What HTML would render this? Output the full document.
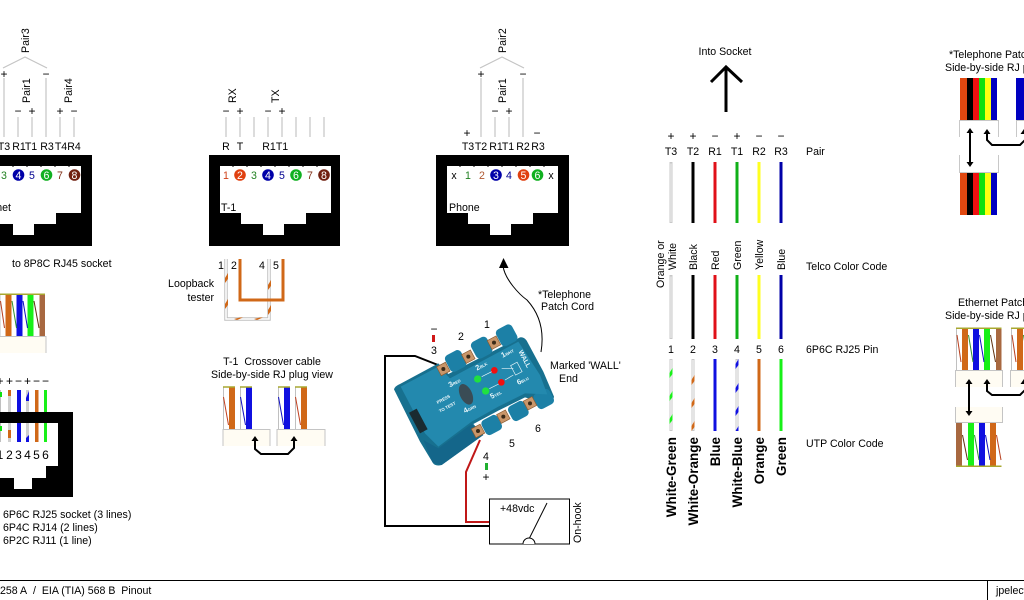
<!DOCTYPE html>
<html><head><meta charset="utf-8"><style>
html,body{margin:0;padding:0;background:#fff;width:1024px;height:600px;overflow:hidden}
svg{display:block}
text{font-family:"Liberation Sans",Arial,sans-serif;font-size:10.6px;fill:#000}
.m{text-anchor:middle}.e{text-anchor:end}
.b{font-weight:bold;font-size:13.5px}
.g{stroke:#c4c4c4;stroke-width:1.2;fill:none}
.s{font-size:12px;text-anchor:middle}
</style></head><body>
<svg width="1024" height="600" viewBox="0 0 1024 600" xmlns="http://www.w3.org/2000/svg">
<defs>
<g id="ethA">
<rect x="955" y="370" width="48" height="17" fill="#fffcf3"/>
<path d="M955.500 387V370.500H1002.500V387" fill="none" stroke="#c4c4c4"/>
<rect x="956" y="328" width="45" height="42" fill="#fff"/>
<path d="M956.500 329V370" stroke="#c0c0c0" fill="none"/>
<rect x="962" y="328" width="6" height="42" fill="#d06818"/>
<rect x="973" y="328" width="6" height="42" fill="#1010e0"/>
<rect x="984" y="328" width="6" height="42" fill="#18f018"/>
<rect x="996" y="328" width="5.500" height="42" fill="#a86840"/>
<path d="M957 335L961 362" stroke="#b84020"/><path d="M968.500 335L973 362" stroke="#309030"/><path d="M979.500 335L984 362" stroke="#1010c0"/><path d="M990.500 335L995.500 362" stroke="#603010"/>
<rect x="956" y="327.500" width="45.500" height="1.500" fill="#a8a830"/>
</g>
<g id="telW">
<rect x="960" y="0" width="7" height="42" fill="#e04810"/>
<rect x="967" y="0" width="6" height="42" fill="#000"/>
<rect x="973" y="0" width="6" height="42" fill="#f01010"/>
<rect x="979" y="0" width="6" height="42" fill="#10e010"/>
<rect x="985" y="0" width="6" height="42" fill="#ffff10"/>
<rect x="991" y="0" width="6" height="42" fill="#0000c0"/>
</g>
<g id="tick"><path d="M233 165v2M247 165v2M261 165v2M275 165v2M289 165v2M303 165v2M317 165v2" stroke="#000" fill="none"/></g>
</defs>

<!-- SOCKET 1 -->
<path d="M-39 155H92V246H-39Z M-28 166V213H-7V224H13V235H34V224H56V213H81V166Z" fill="#000" fill-rule="evenodd"/>
<use href="#tick" x="-248"/>
<path class="g" d="M3 68L25 57L47 68M4 78V137M46 78V137M18 117V137M32 117V137M60 117V137M74 117V137"/>
<text transform="rotate(-90 29 53)" x="29" y="53">Pair3</text>
<text transform="rotate(-90 30 103)" x="30" y="103">Pair1</text>
<text transform="rotate(-90 72 103)" x="72" y="103">Pair4</text>
<text class="s" x="4" y="78">+</text><text class="s" x="46" y="78">−</text>
<text class="s" x="18" y="115">−</text><text class="s" x="32" y="115">+</text><text class="s" x="60" y="115">+</text><text class="s" x="74" y="115">−</text>
<text class="m" x="4" y="150">T3</text><text class="m" x="19" y="150">R1</text><text class="m" x="31" y="150">T1</text><text class="m" x="47" y="150">R3</text><text class="m" x="61" y="150">T4</text><text class="m" x="74" y="150">R4</text>
<text class="m" x="4" y="179" style="fill:#208020">3</text>
<circle cx="18.500" cy="175" r="5.800" fill="#0000a8"/><text class="m" x="18.500" y="179" style="fill:#fff">4</text>
<text class="m" x="32" y="179" style="fill:#000090">5</text>
<circle cx="46.500" cy="175" r="5.800" fill="#10b020"/><text class="m" x="46.500" y="179" style="fill:#fff">6</text>
<text class="m" x="60" y="179" style="fill:#803018">7</text>
<circle cx="74.500" cy="175" r="5.800" fill="#702010"/><text class="m" x="74.500" y="179" style="fill:#fff">8</text>
<text class="e" x="11" y="211">Ethernet</text>
<text x="12" y="267">to 8P8C RJ45 socket</text>
<use href="#ethA" transform="translate(-956.500,-34)"/>

<!-- SOCKET 4 -->
<g>
<rect x="-1" y="390" width="2" height="52" fill="#c0c0c0"/><path d="M0 392h2v5h-2z M0 426h2v5h-2z" fill="#10e010"/>
<rect x="8" y="390" width="3" height="52" fill="#d0d0d0"/><path d="M8 390h3v6h-3z M8 430h3v8h-3z" fill="#d06818"/>
<rect x="17" y="390" width="4" height="52" fill="#1010e0"/>
<rect x="26" y="390" width="3" height="52" fill="#d0d0d0"/><path d="M26 398l3-7v10h-3z M26 438l3-3v7h-3z" fill="#1010e0"/>
<rect x="35" y="390" width="3.500" height="52" fill="#d06818"/>
<rect x="44" y="390" width="3" height="52" fill="#18f018"/>
</g>
<path d="M-27 412H73V497H-27Z M-12 423V466H0V478H14V489H32V478H46V466H58V423Z" fill="#000" fill-rule="evenodd"/>
<text class="s" x="0" y="385">+</text><text class="s" x="9.500" y="385">+</text><text class="s" x="18.500" y="385">−</text><text class="s" x="27.500" y="385">+</text><text class="s" x="36.500" y="385">−</text><text class="s" x="45.500" y="385">−</text>
<text class="s" x="0" y="459">1</text><text class="s" x="9.500" y="459">2</text><text class="s" x="18.500" y="459">3</text><text class="s" x="27.500" y="459">4</text><text class="s" x="36.500" y="459">5</text><text class="s" x="45.500" y="459">6</text>
<text x="3" y="518">6P6C RJ25 socket (3 lines)</text>
<text x="3" y="531">6P4C RJ14 (2 lines)</text>
<text x="3" y="544">6P2C RJ11 (1 line)</text>

<!-- SOCKET 2 -->
<path d="M209 155H340V246H209Z M220 166V213H241V224H263V235H284V224H306V213H331V166Z" fill="#000" fill-rule="evenodd"/>
<use href="#tick"/>
<path class="g" d="M226 117V137M240 117V137M254 117V137M268 117V137M282 117V137M296 117V137M310 117V137M324 117V137"/>
<text transform="rotate(-90 236 103)" x="236" y="103">RX</text>
<text transform="rotate(-90 279 103)" x="279" y="103">TX</text>
<text class="s" x="226" y="115">−</text><text class="s" x="240" y="115">+</text><text class="s" x="268" y="115">−</text><text class="s" x="282" y="115">+</text>
<text class="m" x="226" y="150">R</text><text class="m" x="240" y="150">T</text><text class="m" x="269" y="150">R1</text><text class="m" x="282" y="150">T1</text>
<text class="m" x="226" y="179" style="fill:#d04018">1</text>
<circle cx="240" cy="175" r="5.800" fill="#e04010"/><text class="m" x="240" y="179" style="fill:#fff">2</text>
<text class="m" x="254" y="179" style="fill:#208020">3</text>
<circle cx="268" cy="175" r="5.800" fill="#0000a8"/><text class="m" x="268" y="179" style="fill:#fff">4</text>
<text class="m" x="282" y="179" style="fill:#000090">5</text>
<circle cx="296" cy="175" r="5.800" fill="#10b020"/><text class="m" x="296" y="179" style="fill:#fff">6</text>
<text class="m" x="310" y="179" style="fill:#803018">7</text>
<circle cx="324" cy="175" r="5.800" fill="#702010"/><text class="m" x="324" y="179" style="fill:#fff">8</text>
<text x="221" y="211">T-1</text>

<!-- Loopback -->
<path d="M226 259V319H269V259" fill="none" stroke="#c0c0c0" stroke-width="3.500"/>
<path d="M226 259V319H269V259" fill="none" stroke="#fff" stroke-width="1.500"/>
<path d="M225 278l3-5v6l-3 4zM225 304l3-5v6l-3 4zM234 319l6-1.500 3 0-6 2.500zM254 319l6-1.500 3 0-6 2.500zM268 285l3-5v6l-3 4zM268 310l3-5v6l-3 4z" fill="#d06818"/>
<path d="M240 259V300H283V259" fill="none" stroke="#d06818" stroke-width="3"/>
<text class="m" x="221" y="269">1</text><text class="m" x="234" y="269">2</text><text class="m" x="262" y="269">4</text><text class="m" x="276" y="269">5</text>
<text class="e" x="214" y="287">Loopback</text><text class="e" x="214" y="301">tester</text>

<!-- T-1 crossover -->
<text class="m" x="272" y="365">T-1&#160; Crossover cable</text>
<text class="m" x="272" y="378">Side-by-side RJ plug view</text>
<rect x="223" y="429" width="47" height="17" fill="#fffcf3"/><rect x="277" y="429" width="48" height="17" fill="#fffcf3"/>
<path d="M223 446V429.500H270V446M277 446V429.500H325V446" fill="none" stroke="#c4c4c4"/>
<path d="M223.500 387V429M240.500 387V429M278.500 387V429M295.500 387V429" stroke="#c0c0c0" fill="none"/>
<rect x="229" y="387" width="6" height="42" fill="#d06818"/><rect x="246" y="387" width="6" height="42" fill="#1010e0"/>
<rect x="284" y="387" width="6" height="42" fill="#1010e0"/><rect x="301" y="387" width="6" height="42" fill="#d06818"/>
<path d="M223.500 397L228.500 425M295.500 397L300.500 425" stroke="#c04020"/><path d="M240.500 397L245.500 425M278.500 397L283.500 425" stroke="#1010c0"/>
<path d="M223 387h12M240 387h12M278 387h12M295 387h12" stroke="#a8a830" stroke-width="1.500"/>
<path d="M255 439V449L261 454H288L294 448V439" fill="none" stroke="#000" stroke-width="2"/>
<path d="M255 436l-3.500 5h7zM294 436l-3.500 5h7z" fill="#000"/>

<!-- SOCKET 3 -->
<path d="M436 155H569V246H436Z M447 166V213H468V224H490V235H511V224H533V213H558V166Z" fill="#000" fill-rule="evenodd"/>
<use href="#tick" x="227"/>
<path class="g" d="M480 68L502 57L524 68M481 78V137M523 78V137M495 117V137M509 117V137"/>
<text transform="rotate(-90 506 53)" x="506" y="53">Pair2</text>
<text transform="rotate(-90 506 103)" x="506" y="103">Pair1</text>
<text class="s" x="481" y="78">+</text><text class="s" x="523" y="78">−</text><text class="s" x="495" y="115">−</text><text class="s" x="509" y="115">+</text><text class="s" x="467" y="137">+</text><text class="s" x="537" y="137">−</text>
<text class="m" x="468" y="150">T3</text><text class="m" x="481" y="150">T2</text><text class="m" x="496" y="150">R1</text><text class="m" x="508" y="150">T1</text><text class="m" x="523" y="150">R2</text><text class="m" x="538" y="150">R3</text>
<text class="m" x="454" y="179">x</text><text class="m" x="551" y="179">x</text>
<text class="m" x="468" y="179" style="fill:#208020">1</text>
<text class="m" x="482" y="179" style="fill:#b05830">2</text>
<circle cx="496" cy="175" r="5.800" fill="#0000a8"/><text class="m" x="496" y="179" style="fill:#fff">3</text>
<text class="m" x="509" y="179" style="fill:#000090">4</text>
<circle cx="523.500" cy="175" r="5.800" fill="#e04010"/><text class="m" x="523.500" y="179" style="fill:#fff">5</text>
<circle cx="537.500" cy="175" r="5.800" fill="#10b020"/><text class="m" x="537.500" y="179" style="fill:#fff">6</text>
<text x="449" y="211">Phone</text>

<!-- Patch arrow -->
<path d="M503 266C505 280 520 295 527 300C538 312 545 328 541 352" fill="none" stroke="#000"/>
<path d="M503.500 258L499 268H508.500Z" fill="#000"/>
<text x="538" y="298">*Telephone</text><text x="541" y="310">Patch Cord</text>
<text x="550" y="369">Marked 'WALL'</text><text x="559" y="382">End</text>

<!-- Wires to box -->
<path d="M438 365L415 356H385V526H489" fill="none" stroke="#000" stroke-width="2"/>
<path d="M480 440L466 472V522H489" fill="none" stroke="#c01818" stroke-width="2"/>

<!-- Tester -->
<g transform="translate(370,300) scale(.33333)">
<path d="M72 268Q75 258 90 252L205 190L235 222L450 112Q462 110 470 122L520 215L552 290Q552 300 535 312L465 292L385 332L310 372L340 405L215 495Q195 500 188 488L150 425Z" fill="#17708f"/>
<g fill="#1c80a6">
<rect x="230" y="155" width="54" height="56" rx="13" transform="rotate(-28 257 183)"/>
<rect x="308" y="115" width="54" height="56" rx="13" transform="rotate(-28 335 143)"/>
<rect x="383" y="78" width="54" height="56" rx="13" transform="rotate(-28 410 106)"/>
<rect x="338" y="350" width="54" height="50" rx="13" transform="rotate(-28 365 375)"/>
<rect x="418" y="308" width="54" height="50" rx="13" transform="rotate(-28 445 333)"/>
<rect x="494" y="272" width="54" height="50" rx="13" transform="rotate(-28 521 297)"/>
</g>
<path d="M92 260L205 200L240 235L445 125L510 225L532 283L465 280L385 320L305 365L205 440L165 400Z" fill="#2389ae"/>
<path d="M188 488L160 420L205 445L305 372L340 405L215 495Z" fill="#14668a"/>
<g fill="#c9966a" stroke="#8a5a30" stroke-width="2">
<rect x="205" y="192" width="30" height="30" transform="rotate(-28 220 207)"/>
<rect x="280" y="155" width="30" height="30" transform="rotate(-28 295 170)"/>
<rect x="357" y="113" width="30" height="30" transform="rotate(-28 372 128)"/>
<rect x="309" y="378" width="30" height="30" transform="rotate(-28 324 393)"/>
<rect x="385" y="335" width="30" height="30" transform="rotate(-28 400 350)"/>
<rect x="465" y="295" width="30" height="30" transform="rotate(-28 480 310)"/>
</g>
<g fill="#3a2a18">
<circle cx="220" cy="207" r="6"/><circle cx="295" cy="170" r="6"/><circle cx="372" cy="128" r="6"/><circle cx="324" cy="393" r="6"/><circle cx="400" cy="350" r="6"/><circle cx="480" cy="310" r="6"/>
</g>
<ellipse cx="288" cy="283" rx="18" ry="33" transform="rotate(-25 288 283)" fill="#3a4c55"/>
<rect x="132" y="328" width="26" height="70" transform="rotate(-28 145 363)" fill="#1a2a30"/>
<circle cx="323" cy="237" r="11" fill="#20e040"/><circle cx="373" cy="211" r="10" fill="#f01010"/><circle cx="394" cy="247" r="10" fill="#f01010"/><circle cx="347" cy="273" r="11" fill="#20e040"/>
<g fill="none" stroke="#e8f4f8" stroke-width="2"><path d="M335 230L365 215M358 266L386 252M395 205L430 205M405 240L430 225"/><rect x="428" y="190" width="22" height="32" transform="rotate(-28 439 206)"/></g>
<text transform="rotate(-28 240 262)" x="240" y="262" style="fill:#eaf6fa;font-size:22px;font-weight:bold">3<tspan style="font-size:12px">RED</tspan></text>
<text transform="rotate(-28 320 210)" x="320" y="212" style="fill:#eaf6fa;font-size:22px;font-weight:bold">2<tspan style="font-size:12px">BLK</tspan></text>
<text transform="rotate(-28 397 172)" x="397" y="174" style="fill:#eaf6fa;font-size:22px;font-weight:bold">1<tspan style="font-size:12px">WHT</tspan></text>
<text transform="rotate(62 445 155)" x="445" y="155" style="fill:#eaf6fa;font-size:20px;font-weight:bold">WALL</text>
<text transform="rotate(-28 445 255)" x="445" y="255" style="fill:#eaf6fa;font-size:22px;font-weight:bold">6<tspan style="font-size:12px">BLU</tspan></text>
<text transform="rotate(-28 365 297)" x="365" y="297" style="fill:#eaf6fa;font-size:22px;font-weight:bold">5<tspan style="font-size:12px">YEL</tspan></text>
<text transform="rotate(-28 285 340)" x="285" y="340" style="fill:#eaf6fa;font-size:22px;font-weight:bold">4<tspan style="font-size:12px">GRN</tspan></text>
<text transform="rotate(-28 203 312)" x="203" y="312" style="fill:#eaf6fa;font-size:13px;font-weight:bold">PRESS</text>
<text transform="rotate(-28 210 338)" x="210" y="338" style="fill:#eaf6fa;font-size:13px;font-weight:bold">TO TEST</text>
</g>
<text class="m" x="487" y="328">1</text><text class="m" x="461" y="340">2</text><text class="m" x="434" y="354">3</text>
<text class="s" x="434" y="333">−</text><rect x="432" y="335" width="3" height="7" fill="#d01818"/>
<text class="m" x="538" y="432">6</text><text class="m" x="512" y="447">5</text><text class="m" x="486" y="460">4</text>
<rect x="485" y="463" width="3" height="7" fill="#20b030"/><text class="s" x="486" y="481">+</text>

<!-- Switch box -->
<rect x="489.500" y="499" width="80" height="45" fill="#fff" stroke="#000"/>
<text x="500" y="512">+48vdc</text>
<path d="M547 503L529 539" stroke="#000" fill="none"/>
<path d="M523 544A6 6 0 0 1 535 544" fill="#fff" stroke="#000"/>
<text transform="rotate(-90 581 543)" x="581" y="543">On-hook</text>

<!-- Into socket -->
<text class="m" x="725" y="55">Into Socket</text>
<path d="M726 112V67M711 82L726 67L742 82" fill="none" stroke="#000" stroke-width="3"/>
<text class="s" x="671" y="140">+</text><text class="s" x="693" y="140">+</text><text class="s" x="715" y="140">−</text><text class="s" x="737" y="140">+</text><text class="s" x="759" y="140">−</text><text class="s" x="781" y="140">−</text>
<text class="m" x="671" y="155">T3</text><text class="m" x="693" y="155">T2</text><text class="m" x="715" y="155">R1</text><text class="m" x="737" y="155">T1</text><text class="m" x="759" y="155">R2</text><text class="m" x="781" y="155">R3</text>
<text x="806" y="155">Pair</text>
<text x="806" y="270">Telco Color Code</text>
<text x="806" y="353">6P6C RJ25 Pin</text>
<text x="806" y="447">UTP Color Code</text>
<!-- telco wires -->
<g>
<g fill="none" stroke-width="3">
<path d="M671 162V223M671 275V339" stroke="#c8c8c8"/>
<path d="M693 162V223M693 275V339" stroke="#000"/>
<path d="M715 162V223M715 275V339" stroke="#e01018"/>
<path d="M737 162V223M737 275V339" stroke="#10b018"/>
<path d="M759 162V223M759 275V339" stroke="#ffff20"/>
<path d="M781 162V223M781 275V339" stroke="#0000a8"/>
</g>
<path d="M671 163.500V222M671 276.500V338" stroke="#fff" stroke-width="1" opacity=".8"/>
</g>
<text class="m" x="671" y="353">1</text><text class="m" x="693" y="353">2</text><text class="m" x="715" y="353">3</text><text class="m" x="737" y="353">4</text><text class="m" x="759" y="353">5</text><text class="m" x="781" y="353">6</text>
<!-- UTP wires -->
<path d="M671 359V431M693 359V431M737 359V431" stroke="#c8c8c8" stroke-width="3" fill="none"/>
<path d="M671 360V430M693 360V430M737 360V430" stroke="#fff" stroke-width="1" fill="none"/>
<path d="M669.500 373l3-5v6l-3 4zM669.500 396l3-5v6l-3 4zM669.500 419l3-5v6l-3 4z" fill="#18f018"/>
<path d="M691.500 380l3-5v6l-3 4zM691.500 403l3-5v6l-3 4zM691.500 426l3-5v6l-3 4z" fill="#d06818"/>
<path d="M735.500 364l3-5v6l-3 4zM735.500 388l3-5v6l-3 4zM735.500 411l3-5v6l-3 4zM735.500 431l3-5v5z" fill="#1010e0"/>
<path d="M715 359V431" stroke="#1010e0" stroke-width="3"/>
<path d="M759 359V431" stroke="#d06818" stroke-width="3"/>
<path d="M781 359V431" stroke="#18f018" stroke-width="3"/>
<text class="e b" transform="rotate(-90 676 437)" x="676" y="437">White-Green</text>
<text class="e b" transform="rotate(-90 698 437)" x="698" y="437">White-Orange</text>
<text class="e b" transform="rotate(-90 720 437)" x="720" y="437">Blue</text>
<text class="e b" transform="rotate(-90 742 437)" x="742" y="437">White-Blue</text>
<text class="e b" transform="rotate(-90 764 437)" x="764" y="437">Orange</text>
<text class="e b" transform="rotate(-90 786 437)" x="786" y="437">Green</text>
<text transform="rotate(-90 664 288)" x="664" y="288">Orange or</text>
<text transform="rotate(-90 676 270)" x="676" y="270">White</text>
<text transform="rotate(-90 697 270)" x="697" y="270">Black</text>
<text transform="rotate(-90 719 270)" x="719" y="270">Red</text>
<text transform="rotate(-90 741 270)" x="741" y="270">Green</text>
<text transform="rotate(-90 763 270)" x="763" y="270">Yellow</text>
<text transform="rotate(-90 785 270)" x="785" y="270">Blue</text>

<!-- Right telephone patch -->
<text x="949" y="58">*Telephone Patch Cord</text>
<text x="945" y="71">Side-by-side RJ plug view</text>
<use href="#telW" y="78"/><use href="#telW" y="173"/>
<rect x="1016" y="78" width="8" height="42" fill="#0000c0"/>
<path d="M959.500 137V120.500H998.500V137M959.500 155V172.500H998.500V155M1016.500 137V120.500H1024" fill="none" stroke="#c8c8c8"/>
<path d="M970 132V163" stroke="#000" stroke-width="2"/><path d="M970 128l-3.500 5h7zM970 167l-3.500-5h7z" fill="#000"/>
<path d="M987 133V140L992 145H1020L1025 140" fill="none" stroke="#000" stroke-width="2"/><path d="M987 129l-3.500 5h7zM1024 129l-3.500 5h7z" fill="#000"/>

<!-- Right ethernet patch -->
<text x="958" y="306">Ethernet Patch Cord</text>
<text x="945" y="319">Side-by-side RJ plug view</text>
<use href="#ethA"/><use href="#ethA" transform="translate(55,0)"/>
<rect x="955" y="407" width="48" height="16" fill="#fffcf3"/><path d="M955.500 407V422.500H1002.500V407" fill="none" stroke="#c4c4c4"/>
<rect x="956" y="423" width="45" height="43" fill="#fff"/>
<rect x="956" y="423" width="6" height="43" fill="#a86840"/><rect x="968" y="423" width="6" height="43" fill="#18f018"/><rect x="979" y="423" width="6" height="43" fill="#1010e0"/><rect x="990" y="423" width="6" height="43" fill="#d06818"/>
<path d="M962.500 435L967.500 460" stroke="#603010"/><path d="M974.500 435L979 460" stroke="#309030"/><path d="M985.500 435L990 460" stroke="#1010c0"/><path d="M996.500 435L1001 460" stroke="#b84020"/>
<rect x="956" y="465.500" width="45.500" height="1.500" fill="#a8a830"/>
<path d="M969 383V412" stroke="#000" stroke-width="2"/><path d="M969 379l-3.500 5h7zM969 416l-3.500-5h7z" fill="#000"/>
<path d="M987 383V391L992 395H1020L1025 390" fill="none" stroke="#000" stroke-width="2"/><path d="M987 379l-3.500 5h7zM1024 379l-3.500 5h7z" fill="#000"/>

<!-- Footer -->
<path d="M0 580.500H1024M987.500 581V600" stroke="#000" fill="none"/>
<text x="0" y="594">258 A&#160; /&#160; EIA (TIA) 568 B&#160; Pinout</text>
<text x="996" y="594">jpelectron</text>
</svg>
</body></html>
